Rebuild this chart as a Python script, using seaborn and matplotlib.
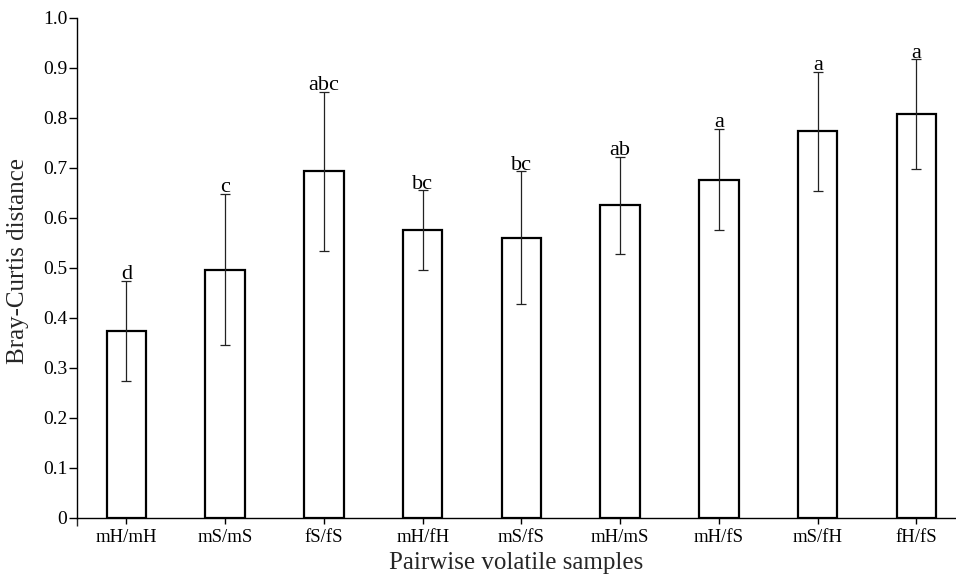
import numpy as np
import pandas as pd
import matplotlib
matplotlib.use("Agg")
import matplotlib.pyplot as plt
import seaborn as sns

categories = ["mH/mH", "mS/mS", "fS/fS", "mH/fH", "mS/fS", "mH/mS", "mH/fS", "mS/fH", "fH/fS"]
means = [0.375, 0.497, 0.694, 0.576, 0.561, 0.626, 0.677, 0.774, 0.808]
errors = [0.100, 0.151, 0.159, 0.080, 0.132, 0.097, 0.102, 0.119, 0.110]
letters = ["d", "c", "abc", "bc", "bc", "ab", "a", "a", "a"]
yticks = [0, 0.1, 0.2, 0.3, 0.4, 0.5, 0.6, 0.7, 0.8, 0.9, 1.0]
ytick_labels = ["0", "0.1", "0.2", "0.3", "0.4", "0.5", "0.6", "0.7", "0.8", "0.9", "1.0"]

sns.set_style("ticks")
plt.rcParams['font.family'] = ['Liberation Serif', 'DejaVu Serif']

df = pd.DataFrame({"pair": categories, "dist": means})

fig = plt.figure(figsize=(9.56, 5.78), dpi=100)
ax = fig.add_axes([77/956, 60/578, 1 - 77/956, 500/578])

sns.barplot(data=df, x="pair", y="dist", order=categories, color="white",
            edgecolor="black", linewidth=1.6, width=0.4, errorbar=None, ax=ax)

xpos = np.arange(len(categories))
ax.errorbar(xpos, means, yerr=errors, fmt="none", ecolor="#222222",
            elinewidth=0.9, capsize=3.3, capthick=0.9, zorder=5)

for x, m, e, lab in zip(xpos, means, errors, letters):
    ax.text(x, m + e + 0.003, lab, ha="center", va="baseline", fontsize=16, color="black")

ax.set_xlim(-0.5, 8.4)
ax.set_ylim(0, 1.0)
ax.set_yticks(yticks)
ax.set_yticklabels(ytick_labels)
ax.set_xticks(xpos)
ax.set_xticklabels(categories)
ax.set_xticks([-0.5], minor=True)

for s in ["top", "right"]:
    ax.spines[s].set_visible(False)
for s in ["left", "bottom"]:
    ax.spines[s].set_linewidth(1.0)
    ax.spines[s].set_color("black")

ax.tick_params(axis="y", length=6, width=1.0, pad=1, labelsize=14, colors="black")
ax.tick_params(axis="x", which="major", length=4, width=1.0, pad=4, labelsize=13.5, colors="black")
ax.tick_params(axis="x", which="minor", length=6, width=1.0)

ax.set_xlabel("Pairwise volatile samples", fontsize=18, labelpad=4)
ax.set_ylabel("Bray-Curtis distance", fontsize=18)
ax.yaxis.set_label_coords(-0.0545, 0.514)

fig.savefig("out.png", dpi=100)
